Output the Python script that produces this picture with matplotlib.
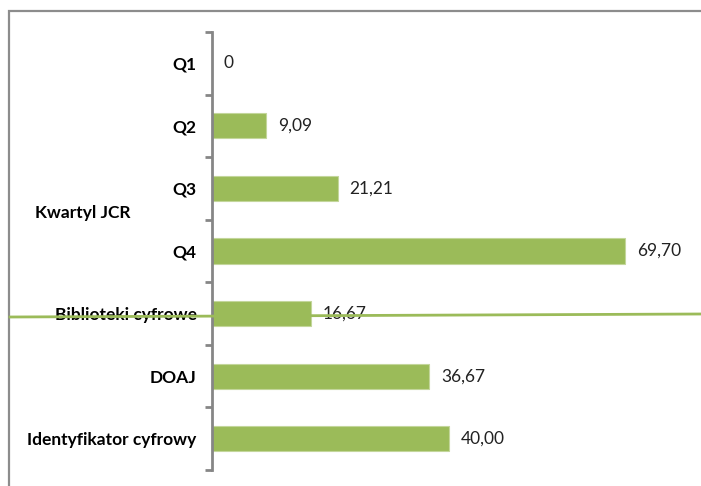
import matplotlib.pyplot as plt
from matplotlib.lines import Line2D
from matplotlib.patches import Rectangle

# data
categories = ['Q1', 'Q2', 'Q3', 'Q4', 'Biblioteki cyfrowe', 'DOAJ', 'Identyfikator cyfrowy']
values = [0, 9.09, 21.21, 69.70, 16.67, 36.67, 40.00]
value_labels = ['0', '9,09', '21,21', '69,70', '16,67', '36,67', '40,00']
group_label = 'Kwartyl JCR'

green = '#9BBB59'
grey = '#868686'
plt.rcParams['font.family'] = ['Lato', 'DejaVu Sans']

W, H = 701, 486
fig = plt.figure(figsize=(W / 100, H / 100), dpi=100)
ax = fig.add_axes([212 / W, 16 / H, 474 / W, 438 / H])

y = list(range(len(categories)))
ax.barh(y, values, height=0.4, color=green, edgecolor='#c3d69b', linewidth=0.8)
for yi, v, lab in zip(y, values, value_labels):
    ax.annotate(lab, (v, yi), xytext=(8.5, 0), textcoords='offset points',
                va='center', ha='left', fontsize=12.5, color='#222222')

ax.set_xlim(0, 80)
ax.set_ylim(len(categories) - 0.5, -0.5)
ax.set_xticks([])
ax.set_yticks(y)
ax.set_yticklabels(categories, fontsize=12.5, fontweight='bold')
# tick marks sit between categories, labels at centres
ax.set_yticks([i - 0.5 for i in range(len(categories) + 1)], minor=True)
ax.tick_params(axis='y', which='major', length=0, pad=11)
ax.tick_params(axis='y', which='minor', length=5, width=2, color=grey)
for s in ['top', 'right', 'bottom']:
    ax.spines[s].set_visible(False)
ax.spines['left'].set_color(grey)
ax.spines['left'].set_linewidth(2)

fig.text(35 / W, 1 - 213 / H, group_label, fontsize=12.5, fontweight='bold', va='center', ha='left')

# chart area border (cut off at right and bottom) and the stray green line
fig.add_artist(Rectangle((9 / W, -0.1), 1.2, 1 - 11 / H + 0.1, transform=fig.transFigure,
                         fill=False, edgecolor='#8c8c8c', linewidth=1.6))
fig.add_artist(Line2D([10 / W, 1.0], [1 - 317 / H, 1 - 314 / H], transform=fig.transFigure,
                      color=green, linewidth=2))

fig.savefig('out.png', dpi=100)
